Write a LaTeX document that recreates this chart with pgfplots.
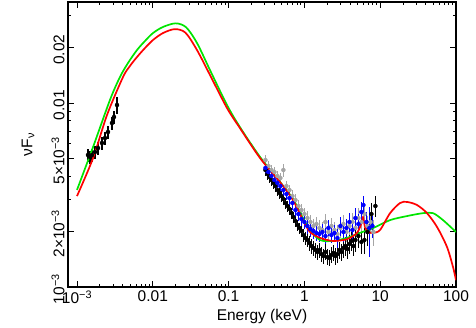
\documentclass[border=0pt]{standalone}
\usepackage{pgfplots}
\pgfplotsset{compat=1.18}
\usepackage{fontspec}
\setmainfont{Liberation Sans}

\definecolor{dgray}{RGB}{165,165,165}

% UV points (keV, nuFnu, rel x err, rel y err)
\pgfplotstableread{
x y ex ey
1.397e-3 5.22e-3 0.06 0.08
1.484e-3 5.09e-3 0.06 0.08
1.577e-3 5.22e-3 0.06 0.08
1.728e-3 5.42e-3 0.06 0.08
1.892e-3 5.69e-3 0.06 0.08
2.137e-3 6.06e-3 0.06 0.08
2.341e-3 6.45e-3 0.06 0.08
2.564e-3 6.96e-3 0.06 0.08
2.895e-3 7.79e-3 0.06 0.08
3.077e-3 8.39e-3 0.06 0.08
3.372e-3 9.75e-3 0.06 0.11
}\uvdata

\pgfplotstableread{
x y ex ey
0.306 4.324e-3 0.05 0.07
0.325 4.113e-3 0.05 0.07
0.345 3.961e-3 0.05 0.07
0.367 3.815e-3 0.05 0.07
0.390 3.675e-3 0.05 0.07
0.414 3.538e-3 0.05 0.07
0.440 3.367e-3 0.05 0.07
0.468 3.243e-3 0.05 0.07
0.497 3.123e-3 0.05 0.07
0.528 3.008e-3 0.05 0.07
0.561 2.862e-3 0.05 0.07
0.597 2.756e-3 0.05 0.07
0.634 2.655e-3 0.05 0.07
0.674 2.525e-3 0.05 0.07
0.716 2.401e-3 0.05 0.07
0.761 2.284e-3 0.05 0.07
0.808 2.173e-3 0.05 0.07
0.859 2.093e-3 0.05 0.07
0.913 2.016e-3 0.05 0.07
0.970 1.917e-3 0.05 0.08
1.031 1.846e-3 0.05 0.08
1.095 1.801e-3 0.05 0.08
1.164 1.735e-3 0.05 0.09
1.237 1.671e-3 0.05 0.09
1.314 1.630e-3 0.05 0.09
1.397 1.589e-3 0.05 0.09
1.484 1.550e-3 0.05 0.09
1.577 1.589e-3 0.05 0.09
1.676 1.511e-3 0.05 0.09
1.781 1.474e-3 0.05 0.09
1.893 1.550e-3 0.05 0.10
2.011 1.456e-3 0.05 0.10
2.137 1.438e-3 0.05 0.10
2.271 1.493e-3 0.05 0.10
2.413 1.531e-3 0.05 0.10
2.565 1.474e-3 0.05 0.11
2.725 1.511e-3 0.05 0.11
2.896 1.589e-3 0.05 0.11
3.077 1.550e-3 0.05 0.11
3.270 1.630e-3 0.05 0.12
3.475 1.671e-3 0.05 0.12
3.693 1.609e-3 0.05 0.12
3.924 1.713e-3 0.05 0.12
4.170 1.779e-3 0.05 0.12
4.431 1.671e-3 0.05 0.12
4.709 1.801e-3 0.05 0.14
5.157 1.893e-3 0.05 0.14
5.652 1.757e-3 0.05 0.14
6.189 1.801e-3 0.05 0.16
6.783 1.991e-3 0.05 0.16
7.654 2.493e-3 0.05 0.15
8.643 2.756e-3 0.05 0.13
}\blackdata

\pgfplotstableread{
x y ex ey
0.306 4.434e-3 0.05 0.07
0.335 4.217e-3 0.05 0.07
0.367 4.011e-3 0.05 0.07
0.402 3.815e-3 0.05 0.07
0.440 3.675e-3 0.05 0.07
0.482 3.538e-3 0.05 0.07
0.528 3.367e-3 0.05 0.07
0.579 3.203e-3 0.05 0.07
0.634 3.046e-3 0.05 0.08
0.694 2.862e-3 0.05 0.08
0.761 2.621e-3 0.05 0.08
0.833 2.493e-3 0.05 0.08
0.913 2.342e-3 0.05 0.08
1.000 2.256e-3 0.05 0.08
1.095 2.146e-3 0.05 0.09
1.200 2.067e-3 0.05 0.09
1.314 2.016e-3 0.05 0.09
1.440 1.966e-3 0.05 0.09
1.577 1.941e-3 0.05 0.10
1.728 1.991e-3 0.05 0.10
1.893 1.893e-3 0.05 0.10
2.073 2.093e-3 0.05 0.10
2.271 1.917e-3 0.05 0.10
2.488 1.966e-3 0.05 0.10
2.725 1.846e-3 0.05 0.12
2.985 2.146e-3 0.05 0.12
3.270 1.991e-3 0.05 0.12
3.582 2.093e-3 0.05 0.12
3.924 2.256e-3 0.05 0.12
4.298 2.041e-3 0.05 0.12
4.709 2.371e-3 0.05 0.14
5.157 2.200e-3 0.05 0.14
5.650 2.556e-3 0.05 0.14
6.003 2.791e-3 0.05 0.12
6.576 2.256e-3 0.05 0.14
7.204 2.093e-3 0.05 0.30
7.890 2.146e-3 0.05 0.14
}\bluedata

\pgfplotstableread{
x y ex ey
0.306 4.899e-3 0.05 0.07
0.335 4.546e-3 0.05 0.07
0.367 4.324e-3 0.05 0.07
0.402 4.217e-3 0.05 0.07
0.440 4.011e-3 0.05 0.07
0.482 3.912e-3 0.05 0.07
0.528 4.324e-3 0.05 0.08
0.579 3.538e-3 0.05 0.07
0.634 3.367e-3 0.05 0.07
0.694 3.123e-3 0.05 0.08
0.761 2.971e-3 0.05 0.08
0.833 2.756e-3 0.05 0.08
0.913 2.621e-3 0.05 0.08
1.000 2.493e-3 0.05 0.08
1.095 2.371e-3 0.05 0.09
1.200 2.256e-3 0.05 0.09
1.314 2.146e-3 0.05 0.09
1.440 2.200e-3 0.05 0.09
1.577 2.093e-3 0.05 0.10
1.728 2.041e-3 0.05 0.10
1.893 2.256e-3 0.05 0.10
2.073 1.991e-3 0.05 0.10
2.271 2.146e-3 0.05 0.10
2.488 2.041e-3 0.05 0.10
2.725 1.941e-3 0.05 0.12
2.985 2.093e-3 0.05 0.12
3.270 2.200e-3 0.05 0.12
3.582 1.991e-3 0.05 0.12
3.924 2.146e-3 0.05 0.12
4.298 2.256e-3 0.05 0.12
4.709 2.093e-3 0.05 0.14
5.157 2.371e-3 0.05 0.14
5.650 2.256e-3 0.05 0.14
6.189 2.493e-3 0.05 0.14
6.783 2.146e-3 0.05 0.14
7.425 2.256e-3 0.05 0.14
8.133 1.991e-3 0.05 0.16
}\graydata

\begin{document}
\begin{tikzpicture}[font=\fontsize{15.5}{18}\selectfont]
\begin{axis}[
    scale only axis,
    width=388pt,
    height=285pt,
    xmode=log, ymode=log,
    xmin=7.61e-4, xmax=100,
    ymin=1e-3, ymax=0.0354,
    xtick={1e-3,0.01,0.1,1,10,100},
    xticklabels={10\textsuperscript{−3},0.01,0.1,1,10,100},
    minor xtick={2e-3,3e-3,4e-3,5e-3,6e-3,7e-3,8e-3,9e-3,
                 0.02,0.03,0.04,0.05,0.06,0.07,0.08,0.09,
                 0.2,0.3,0.4,0.5,0.6,0.7,0.8,0.9,
                 2,3,4,5,6,7,8,9,20,30,40,50,60,70,80,90},
    ytick={1e-3,2e-3,5e-3,0.01,0.02},
    yticklabels={10\textsuperscript{−3},2×10\textsuperscript{−3},5×10\textsuperscript{−3},0.01,0.02},
    minor ytick={3e-3,4e-3,6e-3,7e-3,8e-3,9e-3,0.03},
    yticklabel style={rotate=90, anchor=south, xshift=-2pt},
    tick align=inside,
    major tick length=6pt,
    minor tick length=3pt,
    every tick/.style={black, line width=0.9pt},
    axis line style={line width=1.3pt},
    xlabel={Energy (keV)},
    ylabel={νF\textsubscript{ν}},
    xlabel style={at={(axis description cs:0.5,-0.105)}, anchor=center},
    ylabel style={at={(axis description cs:-0.103,0.5)}, anchor=center},
    error bars/error bar style={line width=1.2pt},
]
\addplot[only marks, mark=none, dgray,
  error bars/.cd, x dir=both, x explicit relative, y dir=both, y explicit relative, error mark=none]
  table[x=x, y=y, x error=ex, y error=ey] {\graydata};
\addplot[only marks, mark=none, black,
  error bars/.cd, x dir=both, x explicit relative, y dir=both, y explicit relative, error mark=none]
  table[x=x, y=y, x error=ex, y error=ey] {\blackdata};
\addplot[only marks, mark=none, blue,
  error bars/.cd, x dir=both, x explicit relative, y dir=both, y explicit relative, error mark=none]
  table[x=x, y=y, x error=ex, y error=ey] {\bluedata};
\addplot[only marks, mark=none, black,
  error bars/.cd, x dir=both, x explicit relative, y dir=both, y explicit relative, error mark=none]
  table[x=x, y=y, x error=ex, y error=ey] {\uvdata};

% model curves
\addplot[green!90!black, line width=1.7pt, smooth] coordinates {
(1.000e-3,3.37e-3) (1.63e-3,5.77e-3) (2.72e-3,1.038e-2) (3.69e-3,1.385e-2)
(4.71e-3,1.650e-2) (6.19e-3,1.941e-2) (7.89e-3,2.173e-2) (1.006e-2,2.40e-2)
(1.363e-2,2.59e-2) (2.0e-2,2.71e-2)
(2.75e-2,2.58e-2) (3.83e-2,2.12e-2) (5.68e-2,1.511e-2) (9.53e-2,9.75e-3)
(0.141,7.40e-3) (0.260,5.09e-3) (0.435,3.91e-3) (0.707,3.01e-3)
(0.958,2.37e-3) (1.186,2.04e-3) (1.61,1.80e-3) (2.38,1.78e-3)
(3.65,1.85e-3) (5.41,1.97e-3) (8.04,2.09e-3) (13.5,2.31e-3)
(22.6,2.43e-3) (36.7,2.52e-3) (49.7,2.52e-3) (67.4,2.31e-3) (100,1.99e-3)
};
\addplot[red, line width=1.7pt, smooth] coordinates {
(1.000e-3,3.12e-3) (1.63e-3,5.02e-3) (2.49e-3,8.61e-3) (4.05e-3,1.385e-2)
(5.0e-3,1.59e-2) (6.19e-3,1.778e-2) (7.89e-3,1.99e-2) (1.006e-2,2.20e-2)
(1.363e-2,2.40e-2) (1.95e-2,2.52e-2)
(2.7e-2,2.41e-2) (3.83e-2,1.941e-2) (5.68e-2,1.42e-2) (9.53e-2,9.39e-3)
(0.141,7.31e-3) (0.260,5.02e-3) (0.476,3.72e-3) (0.707,2.97e-3)
(0.958,2.31e-3) (1.186,1.99e-3) (1.61,1.85e-3) (2.38,1.78e-3)
(3.65,1.82e-3) (4.94,1.97e-3) (5.75,2.26e-3) (5.93,2.40e-3)
(6.30,2.12e-3) (6.90,1.99e-3) (8.04,1.97e-3) (9.94,2.04e-3)
(13.5,2.52e-3) (18.25,2.86e-3) (22.6,2.90e-3) (30.6,2.79e-3)
(41.4,2.52e-3) (56.2,2.12e-3) (76.1,1.65e-3) (91.3,1.285e-3) (100,1.09e-3)
};
\end{axis}
\pgfresetboundingbox
\path[use as bounding box] ([xshift=-68pt,yshift=-40pt]current axis.south west) rectangle ([xshift=20pt,yshift=2pt]current axis.north east);
\end{tikzpicture}
\end{document}
